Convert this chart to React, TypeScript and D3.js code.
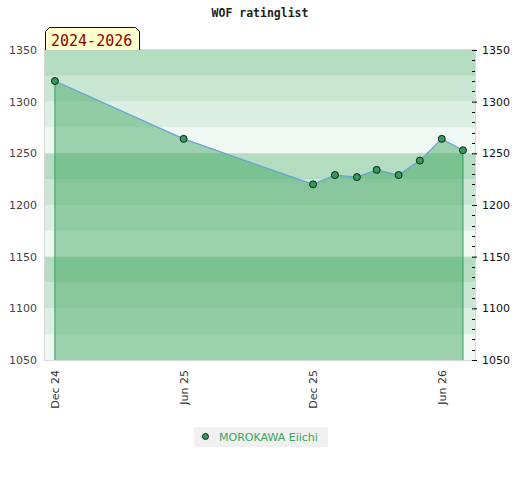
import React from "react";
import * as d3 from "d3";

// ratings
const dates = ["2024-12-01", "2025-06-01", "2025-12-01", "2026-01-01", "2026-02-01", "2026-03-01", "2026-04-01", "2026-05-01", "2026-06-01", "2026-07-01"];
const ratings = [1320, 1264, 1220, 1229, 1227, 1234, 1229, 1243, 1264, 1253];
const yTicks = [1050, 1100, 1150, 1200, 1250, 1300, 1350];
const xTicks = ["2024-12-01", "2025-06-01", "2025-12-01", "2026-06-01"];
const playerName = "MOROKAWA Eiichi";
const periodLabel = "2024-2026";
const chartTitle = "WOF ratinglist";

const bandColors = ["#eff8f2", "#dcefe3", "#c9e6d3", "#b3dcc1"];

const W = 520;
const H = 480;
const left = 45;
const right = 475;
const top = 50;
const bottom = 360;

const parse = d3.utcParse("%Y-%m-%d");

export default function App() {
  const x = d3
    .scaleUtc()
    .domain([parse("2024-11-17")!, parse("2026-07-18")!])
    .range([left, right]);
  const y = d3.scaleLinear().domain([1050, 1350]).range([bottom, top]);

  const pts = dates.map((d, i) => ({ date: parse(d)!, v: ratings[i] }));

  const area = d3
    .area<{ date: Date; v: number }>()
    .x((d) => x(d.date))
    .y0(bottom)
    .y1((d) => y(d.v));
  const line = d3
    .line<{ date: Date; v: number }>()
    .x((d) => x(d.date))
    .y((d) => y(d.v));

  const bands = d3.range(1050, 1350, 25);
  const minor = d3.range(1060, 1350, 10).filter((v) => v % 50 !== 0);
  const fmt = d3.utcFormat("%b %y");
  const first = pts[0];
  const last = pts[pts.length - 1];

  return (
    <svg width={W} height={H} style={{ position: "absolute", left: 0, top: 0 }} fontFamily="DejaVu Sans">
      <text x={260} y={17} textAnchor="middle" fontFamily="DejaVu Sans Mono" fontWeight="bold" fontSize={11.5} fill="#222">
        {chartTitle}
      </text>

      {bands.map((b, i) => (
        <rect key={b} x={left} y={y(b + 25)} width={right - left} height={y(b) - y(b + 25)} fill={bandColors[i % 4]} />
      ))}
      {[1150, 1250].map((v) => (
        <line key={v} x1={left} x2={right} y1={y(v) + 0.5} y2={y(v) + 0.5} stroke="#c8d8cc" />
      ))}

      <path d={area(pts)!} fill="rgb(57,164,89)" fillOpacity={0.46} />
      <line x1={x(first.date)} x2={x(first.date)} y1={y(first.v)} y2={bottom} stroke="#3a9e5e" />
      <line x1={x(last.date)} x2={x(last.date)} y1={y(last.v)} y2={bottom} stroke="#3a9e5e" />
      <path d={line(pts)!} fill="none" stroke="#62a4dc" strokeWidth={1.2} />
      {pts.map((p, i) => (
        <circle key={i} cx={x(p.date)} cy={y(p.v)} r={3.5} fill="#2f9e57" stroke="#111" strokeWidth={0.9} />
      ))}

      <rect x={left - 0.5} y={top - 0.5} width={right - left + 1} height={bottom - top + 1} fill="none" stroke="#d8d8d8" />

      {yTicks.map((v) => (
        <text key={"l" + v} x={37} y={y(v) + 4} textAnchor="end" fontSize={11} fill="#444">
          {v}
        </text>
      ))}
      {yTicks.map((v) => (
        <g key={"r" + v}>
          <line x1={472} x2={477} y1={y(v) + 0.5} y2={y(v) + 0.5} stroke="#000" />
          <text x={482} y={y(v) + 4} fontSize={11} fill="#111">
            {v}
          </text>
        </g>
      ))}
      {minor.map((v) => (
        <line key={"m" + v} x1={472} x2={475} y1={Math.round(y(v)) + 0.5} y2={Math.round(y(v)) + 0.5} stroke="#000" />
      ))}

      {xTicks.map((t) => {
        const px = x(parse(t)!);
        return (
          <text key={t} transform={`translate(${px + 4},370) rotate(-90)`} textAnchor="end" fontSize={11} fill="#333">
            {fmt(parse(t)!)}
          </text>
        );
      })}

      <path d="M45.5,50 L45.5,31.5 L49.5,27.5 L135.5,27.5 L139.5,31.5 L139.5,50" fill="#ffffcc" stroke="#111" />
      <text x={51} y={46} fontFamily="DejaVu Sans Mono" fontSize={15} fill="#8b0000">
        {periodLabel}
      </text>

      <rect x={194} y={427} width={134} height={20} fill="#f0f0f0" />
      <circle cx={205.5} cy={436.5} r={3} fill="#2f9e57" stroke="#111" strokeWidth={0.9} />
      <text x={219} y={441} fontSize={11} fill="#3aa65e">
        {playerName}
      </text>
    </svg>
  );
}
